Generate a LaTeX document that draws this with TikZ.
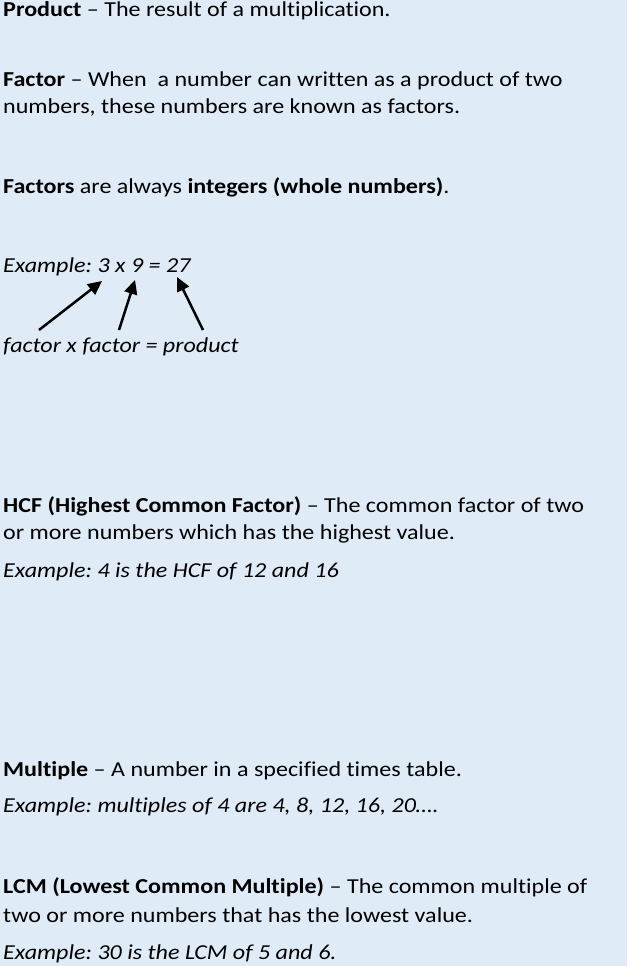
\documentclass[tikz,border=0pt]{standalone}
\usepackage{fontspec}
\setmainfont[Ligatures={TeX,NoCommon}]{Carlito}
\usetikzlibrary{arrows.meta}
\definecolor{bgblue}{HTML}{DFEBF7}
\frenchspacing
\newcommand{\wide}[1]{\scalebox{1.13}[1]{#1}}
\begin{document}
\begin{tikzpicture}[x=1pt,y=-1pt,
  txt/.style={anchor=base west,inner sep=0pt,font=\fontsize{21.3}{26}\selectfont},
  arr/.style={line width=2.5pt,-{Triangle[length=14pt,width=13pt]}}]
\fill[bgblue] (0,0) rectangle (627,966);
\useasboundingbox (0,0) rectangle (627,966);
\node[txt] (prod) at (3,17) {\wide{\textbf{Product} -- The result of a multiplication.}};
\node[txt] (fac1) at (3,86) {\wide{\textbf{Factor} -- When\ \ a number can written as a product of two}};
\node[txt] (fac2) at (3,113) {\wide{numbers, these numbers are known as factors.}};
\node[txt] (facs) at (3,193) {\wide{\textbf{Factors} are always \textbf{integers (whole numbers)}.}};
\node[txt] (ex1) at (3,272) {\wide{\textit{Example: 3 x 9 = 27}}};
\node[txt] (ffp) at (3,352) {\wide{\textit{factor x factor = product}}};
\node[txt] (hcf1) at (3,512) {\wide{\textbf{HCF (Highest Common Factor)} -- The common factor of two}};
\node[txt] (hcf2) at (3,539) {\wide{or more numbers which has the highest value.}};
\node[txt] (hcfex) at (3,577) {\wide{\textit{Example: 4 is the HCF of 12 and 16}}};
\node[txt] (mul1) at (3,776) {\wide{\textbf{Multiple} -- A number in a specified times table.}};
\node[txt] (mulex) at (3,812) {\wide{\textit{Example: multiples of 4 are 4, 8, 12, 16, 20….}}};
\node[txt] (lcm1) at (3,893) {\wide{\textbf{LCM (Lowest Common Multiple)} -- The common multiple of}};
\node[txt] (lcm2) at (3,922) {\wide{two or more numbers that has the lowest value.}};
\node[txt] (lcmex) at (3,959) {\wide{\textit{Example: 30 is the LCM of 5 and 6.}}};
\coordinate (t1) at (39,330);
\coordinate (h1) at (102,281);
\coordinate (t2) at (119,330);
\coordinate (h2) at (135,280);
\coordinate (t3) at (203,330);
\coordinate (h3) at (177,277);
\draw[arr] (t1) -- (h1);
\draw[arr] (t2) -- (h2);
\draw[arr] (t3) -- (h3);
\end{tikzpicture}
\end{document}
